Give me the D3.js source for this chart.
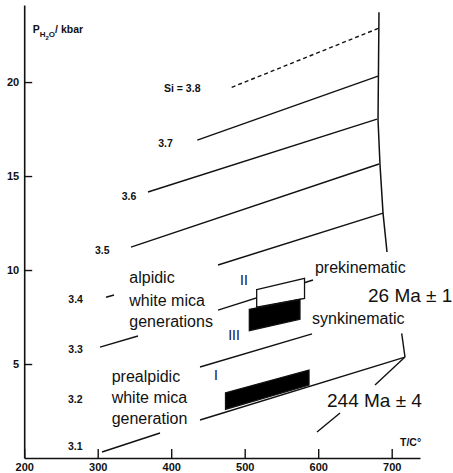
<!DOCTYPE html>
<html>
<head>
<meta charset="utf-8">
<script src="https://cdn.jsdelivr.net/npm/d3@7"></script>
<style>
  html, body { margin: 0; padding: 0; background: #fff; }
  svg { display: block; }
  text { font-family: "Liberation Sans", Arial, Helvetica, sans-serif; fill: #111; }
</style>
</head>
<body>
<svg id="chart" width="453" height="473"></svg>
<script>
// ---------- data (T in °C, P in kbar) ----------
const xTicks = [200, 300, 400, 500, 600, 700];
const yTicks = [5, 10, 15, 20];

// Si isopleths (one entry per visible segment)
const isoSi = [3.8, 3.7, 3.6, 3.5, 3.4, 3.4, 3.3, 3.3, 3.2, 3.1, 3.1];
const isoSegments = [
  [[482.3, 19.72], [682.7, 22.87]],
  [[435.5, 16.91], [681.4, 20.32]],
  [[368.4, 14.15], [680.0, 18.03]],
  [[345.3, 11.22], [682.7, 15.64]],
  [[311.3, 8.55], [322.2, 8.67]],
  [[463.7, 10.27], [688.2, 13.03]],
  [[303.1, 5.90], [354.8, 6.49]],
  [[463.7, 7.87], [592.9, 9.47]],
  [[439.2, 4.84], [591.6, 6.60]],
  [[305.9, 0.32], [384.8, 1.33]],
  [[439.2, 2.02], [718.1, 5.37]]
];
const isoLabels = ["Si = 3.8", "3.7", "3.6", "3.5", "3.4", "3.3", "3.2", "3.1"];
const isoLabelT = [390.2, 382.4, 332.7, 296.3, 260.0, 260.0, 259.6, 259.6];
const isoLabelP = [19.47, 16.54, 13.70, 10.85, 8.24, 5.57, 2.91, 0.43];

// upper (right) boundary curve
const boundaryLine = [[682.7, 23.72], [681.4, 17.98], [684.1, 15.59], [688.2, 13.03], [693.6, 10.96]];

// age pointer lines
const ageLines = [
  [[598.4, 1.38], [629.7, 2.39]],
  [[677.3, 3.88], [718.1, 5.37]],
  [[713.6, 6.63], [718.1, 5.37]]
];

// white mica generation fields
const boxNames = ["II", "III", "I"];
const boxKind = ["open", "solid", "solid"];
const boxCorners = [
  [[516.3, 8.96], [581.4, 9.56], [581.4, 8.49], [516.3, 8.02]],
  [[506.3, 7.91], [575.2, 8.44], [575.2, 7.38], [506.3, 6.77]],
  [[473.9, 3.47], [587.5, 4.68], [587.5, 3.88], [473.9, 2.59]]
];
const boxLabelT = [499.0, 485.4, 461.0];
const boxLabelP = [9.20, 6.28, 4.15];

// annotation texts
const noteTexts = ["alpidic", "white mica", "generations", "prealpidic", "white mica", "generation",
                   "prekinematic", "synkinematic"];
const noteT = [343.0, 343.0, 343.0, 319.0, 319.0, 319.0, 595.6, 591.6];
const noteP = [9.31, 8.11, 6.99, 4.04, 2.91, 1.81, 9.84, 7.15];

const ageTexts = ["26 Ma ± 1", "244 Ma ± 4"];
const ageT = [667.8, 612.0];
const ageP = [8.30, 2.71];

const xTitle = "T/C°";
const xTitlePos = [711.3, 0.66];
const yTitlePos = [211.6, 22.59];

// ---------- drawing ----------
const INK = "#111";
const svg = d3.select("#chart");
const x = d3.scaleLinear().domain([200, 738.5]).range([24.2, 420]);
const y = d3.scaleLinear().domain([0, 24.1]).range([458, 5]);

const line = d3.line().x(d => x(d[0])).y(d => y(d[1]));

// axes
const xAxis = d3.axisBottom(x).tickValues(xTicks).tickFormat(d3.format("d"))
  .tickSizeInner(-9).tickSizeOuter(0).tickPadding(5);
const gx = svg.append("g").attr("transform", `translate(0,${y(0)})`).call(xAxis);
gx.select(".domain").attr("stroke", INK).attr("stroke-width", 1.6);
gx.selectAll(".tick line").attr("stroke", INK).attr("stroke-width", 1.4);
gx.selectAll(".tick text").attr("font-size", 11).attr("font-weight", "bold").attr("fill", INK)
  .attr("font-family", "Liberation Sans, Arial, sans-serif");

const yAxis = d3.axisLeft(y).tickValues(yTicks).tickFormat(d3.format("d"))
  .tickSizeInner(-8).tickSizeOuter(0).tickPadding(5);
const gy = svg.append("g").attr("transform", `translate(${x(200)},0)`).call(yAxis);
gy.select(".domain").attr("stroke", INK).attr("stroke-width", 1.6);
gy.selectAll(".tick line").attr("stroke", INK).attr("stroke-width", 1.4);
gy.selectAll(".tick text").attr("font-size", 11).attr("font-weight", "bold").attr("fill", INK)
  .attr("font-family", "Liberation Sans, Arial, sans-serif");

// isopleths
svg.append("g").selectAll("path").data(isoSegments).join("path")
  .attr("d", line)
  .attr("fill", "none")
  .attr("stroke", INK)
  .attr("stroke-width", 1.4)
  .attr("stroke-dasharray", (d, i) => isoSi[i] === 3.8 ? "4,3" : null);

// boundary
svg.append("path").datum(boundaryLine).attr("d", line)
  .attr("fill", "none").attr("stroke", INK).attr("stroke-width", 1.5);

// age pointers
svg.append("g").selectAll("path").data(ageLines).join("path")
  .attr("d", line).attr("fill", "none").attr("stroke", INK).attr("stroke-width", 1.4);

// boxes
svg.append("g").selectAll("path").data(boxCorners).join("path")
  .attr("d", d => line(d) + "Z")
  .attr("fill", (d, i) => boxKind[i] === "solid" ? "#000" : "#fff")
  .attr("stroke", INK)
  .attr("stroke-width", 1.3);

svg.append("g").selectAll("text").data(boxNames).join("text")
  .attr("x", (d, i) => x(boxLabelT[i]))
  .attr("y", (d, i) => y(boxLabelP[i]))
  .attr("text-anchor", "middle")
  .attr("font-size", 14)
  .attr("fill", INK)
  .text(d => d);

// isopleth labels
svg.append("g").selectAll("text").data(isoLabels).join("text")
  .attr("x", (d, i) => x(isoLabelT[i]))
  .attr("y", (d, i) => y(isoLabelP[i]))
  .attr("font-size", 10.5)
  .attr("font-weight", "bold")
  .attr("fill", INK)
  .text(d => d);

// annotation texts
svg.append("g").selectAll("text").data(noteTexts).join("text")
  .attr("x", (d, i) => x(noteT[i]))
  .attr("y", (d, i) => y(noteP[i]))
  .attr("font-size", 16)
  .attr("fill", INK)
  .text(d => d);

svg.append("g").selectAll("text").data(ageTexts).join("text")
  .attr("x", (d, i) => x(ageT[i]))
  .attr("y", (d, i) => y(ageP[i]))
  .attr("font-size", 19)
  .attr("fill", INK)
  .text(d => d);

// axis titles
svg.append("text").attr("x", x(xTitlePos[0])).attr("y", y(xTitlePos[1]))
  .attr("font-size", 10.5).attr("font-weight", "bold").attr("fill", INK).text(xTitle);

const yt = svg.append("text").attr("x", x(yTitlePos[0])).attr("y", y(yTitlePos[1]))
  .attr("font-size", 10.5).attr("font-weight", "bold").attr("fill", INK);
yt.append("tspan").text("P");
yt.append("tspan").attr("dy", 3.5).attr("font-size", 8).text("H");
yt.append("tspan").attr("dy", 3.5).attr("font-size", 6).text("2");
yt.append("tspan").attr("dy", -3.5).attr("font-size", 8).text("O");
yt.append("tspan").attr("dy", -3.5).text("/ kbar");
</script>
</body>
</html>
